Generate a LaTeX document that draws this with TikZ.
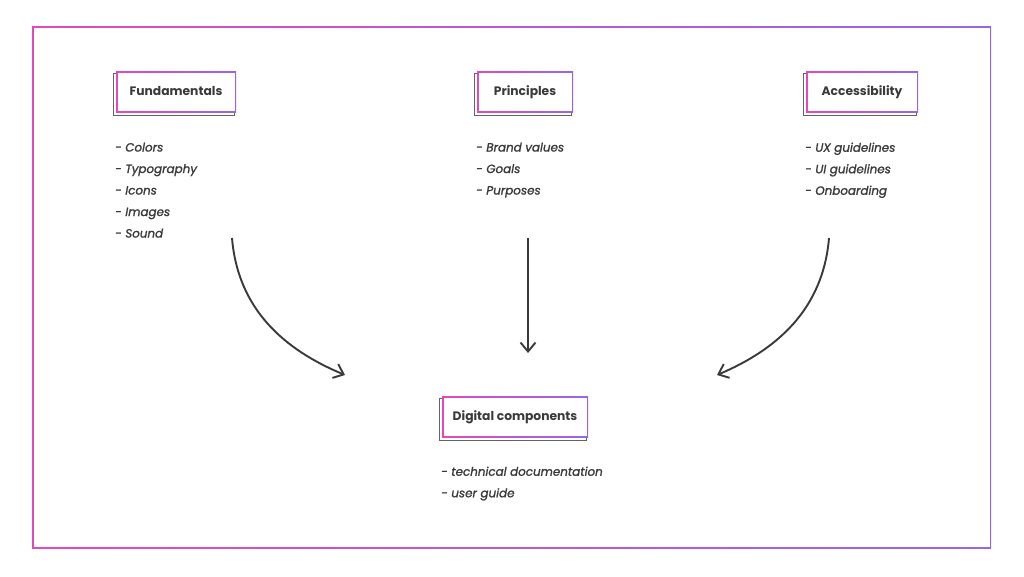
\documentclass[tikz,border=0pt]{standalone}
\usepackage{fontspec}
\setmainfont{Poppins}
\usetikzlibrary{arrows.meta}
\definecolor{pk}{RGB}{228,72,188}
\definecolor{pu}{RGB}{150,102,232}
\definecolor{ink}{RGB}{58,58,58}
\definecolor{shd}{RGB}{100,100,100}
\pgfdeclarelayer{bg}
\pgfdeclarelayer{paper}
\pgfsetlayers{paper,bg,main}
\tikzset{
  gradframe/.style={left color=pk, right color=pu, draw=none,
    path picture={\fill[white] ([shift={(1.5pt,-1.5pt)}]path picture bounding box.north west) rectangle ([shift={(-1.5pt,1.5pt)}]path picture bounding box.south east);}},
  headbox/.style={gradframe, minimum height=41pt, inner sep=0pt,
    text height=10.6pt, text depth=2pt,
    font=\fontsize{12.3}{14}\selectfont\bfseries, text=ink},
  listtext/.style={anchor=north west, inner sep=0pt, align=left, text=ink,
    font=\fontsize{11.9}{21.5}\selectfont\itshape\addfontfeature{FakeBold=1.3}},
  shadowline/.style={draw=shd, line width=1.3pt},
  flow/.style={draw=ink, line width=1.9pt, -{Straight Barb[length=9pt,width=15pt,line width=1.9pt]}},
}
\begin{document}
\begin{tikzpicture}[x=1pt,y=-1pt]
\useasboundingbox (0,0) rectangle (1024,576);
\begin{pgfonlayer}{paper}
\fill[white] (0,0) rectangle (1024,576);
% outer frame
\shade[left color=pk, right color=pu] (32,26) rectangle (991,548);
\fill[white] (33.5,27.5) rectangle (989.5,546.5);
\end{pgfonlayer}

% heading boxes
\node[headbox, minimum width=120pt] (f) at (176,91.5) {Fundamentals};
\node[headbox, minimum width=96pt]  (p) at (525,91.5) {Principles};
\node[headbox, minimum width=112pt] (a) at (862,91.5) {Accessibility};
\node[headbox, minimum width=146pt] (d) at (515,416.5) {Digital components};

\begin{pgfonlayer}{bg}
\foreach \n in {f,p,a,d}
  \draw[shadowline] ([shift={(-2pt,-3pt)}]\n.north west) rectangle ([shift={(-2pt,-3pt)}]\n.south east);
\end{pgfonlayer}

% lists
\node[listtext] (fl) at (115,142.5) {- Colors\\- Typography\\- Icons\\- Images\\- Sound};
\node[listtext] (pl) at (476,142.5) {- Brand values\\- Goals\\- Purposes};
\node[listtext] (al) at (805,142.5) {- UX guidelines\\- UI guidelines\\- Onboarding};
\node[listtext] (dl) at (441,466.5) {- technical documentation\\- user guide};

% connectors
\coordinate (s1) at (232,238);
\coordinate (e1) at (345,375);
\coordinate (s2) at (528,238);
\coordinate (e2) at (528,353);
\coordinate (s3) at (829,238);
\coordinate (e3) at (717,375);
\draw[flow] (s1) .. controls (238,310) and (285,350) .. (e1);
\draw[flow] (s2) -- (e2);
\draw[flow] (s3) .. controls (823,310) and (776,350) .. (e3);
\end{tikzpicture}
\end{document}
